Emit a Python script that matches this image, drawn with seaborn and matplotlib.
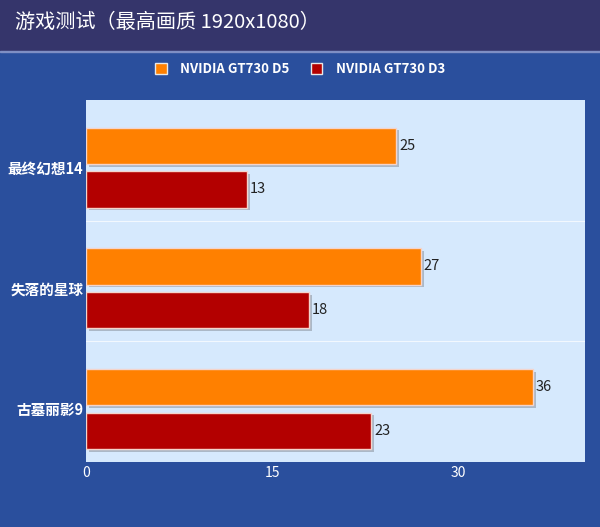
import matplotlib
matplotlib.use("Agg")
import matplotlib.pyplot as plt
import matplotlib.patheffects as pe
from matplotlib.patches import Rectangle
import pandas as pd
import seaborn as sns

# data
games = ["最终幻想14", "失落的星球", "古墓丽影9"]
series = ["NVIDIA GT730 D5", "NVIDIA GT730 D3"]
d5_fps = [25, 27, 36]
d3_fps = [13, 18, 23]
x_ticks = [0, 15, 30]

df = pd.DataFrame({
    "game": games * 2,
    "card": [series[0]] * 3 + [series[1]] * 3,
    "fps": d5_fps + d3_fps,
})

sns.set_theme(style="white")
plt.rcParams["font.family"] = ["Noto Sans CJK SC", "DejaVu Sans"]

bg = "#2a4f9d"
fig = plt.figure(figsize=(6, 5.27), dpi=100, facecolor=bg)

# title bar
fig.patches.append(Rectangle((0, 1 - 50 / 527), 1, 50 / 527, transform=fig.transFigure,
                             color="#35356b", zorder=0))
fig.patches.append(Rectangle((0, 1 - 52 / 527), 1, 1.5 / 527, transform=fig.transFigure,
                             color="#7f8fc4", zorder=0))
fig.text(15 / 600, 1 - 22 / 527, "游戏测试（最高画质 1920x1080）", color="white",
         fontsize=14.5, va="center", ha="left")

ax = fig.add_axes([86 / 600, 1 - 462 / 527, 499 / 600, 362 / 527])
ax.set_facecolor("#d6e9fd")

sns.barplot(data=df, y="game", x="fps", hue="card", orient="h",
            palette=["#ff8000", "#b30000"], saturation=1, width=0.725, gap=0.17,
            edgecolor="#f4d4cc", linewidth=1, ax=ax, legend=False)

for bar in ax.patches:
    bar.set_path_effects([pe.SimplePatchShadow(offset=(2, -2), shadow_rgbFace="#9aa4b0", alpha=0.7),
                          pe.Normal()])

for cont in ax.containers:
    ax.bar_label(cont, padding=2, fontsize=10.5, color="#222222")

# bars sit a little low inside each band in the original
shift = 0.06
ax.set_xlim(0, 40.2)
ax.set_ylim(2.5 - shift, -0.5 - shift)
ax.set_xticks(x_ticks)
ax.set_xticklabels([str(t) for t in x_ticks], color="white", fontsize=10)
ax.tick_params(axis="y", colors="white", labelsize=10.5, length=0, pad=2)
ax.tick_params(axis="x", length=0, pad=3)
for lbl in ax.get_yticklabels():
    lbl.set_color("white")
    lbl.set_fontweight("bold")
ax.set_xlabel("")
ax.set_ylabel("")
for y in [0.5, 1.5]:
    ax.axhline(y - shift, color="white", lw=0.8, alpha=0.7)
for s in ax.spines.values():
    s.set_visible(False)

# legend
handles = [Rectangle((0, 0), 1, 1, facecolor=c, edgecolor="#e8e8e8", lw=1)
           for c in ["#ff8000", "#b30000"]]
leg = fig.legend(handles, series, loc="center", bbox_to_anchor=(0.5, 1 - 69 / 527),
                 ncol=2, frameon=False, fontsize=9.5, handlelength=0.9, handleheight=0.9,
                 columnspacing=1.6, handletextpad=1.0, labelcolor="white")
for t in leg.get_texts():
    t.set_fontweight("bold")

fig.savefig("out.png", dpi=100, facecolor=bg)
